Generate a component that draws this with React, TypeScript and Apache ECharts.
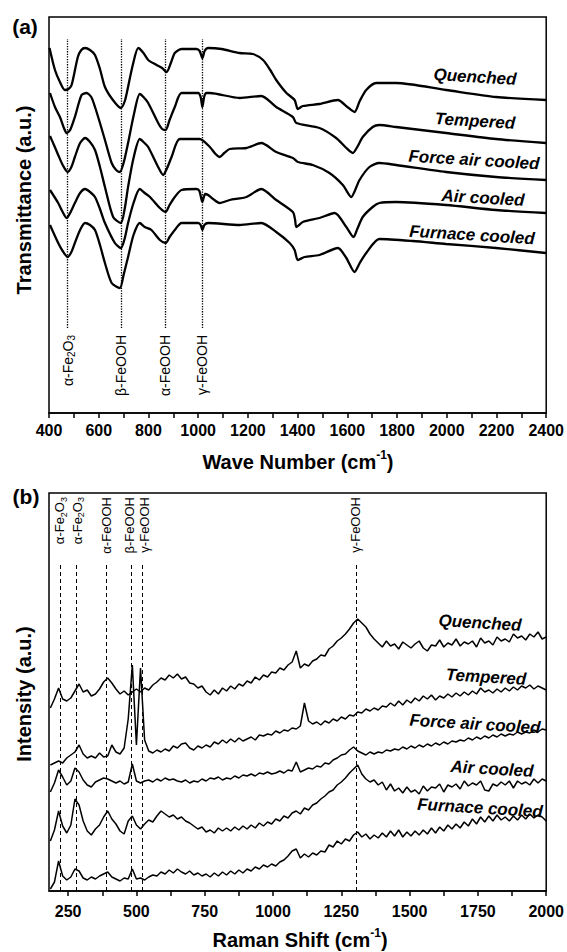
import React, { useEffect, useRef } from 'react';
import * as echarts from 'echarts';

const FONT = '"Liberation Sans", Arial, Helvetica, sans-serif';

// ---------- Panel (a): FTIR, [wave number, transmittance (a.u.)] ----------
const ftirNames = ['Quenched', 'Tempered', 'Force air cooled', 'Air cooled', 'Furnace cooled'];

const ftirQuenched = [
  [402, 365], [424, 343], [444, 331], [464, 323], [478, 324], [491, 328], [516, 356], [530, 363], [545, 365],
  [565, 363], [585, 358], [605, 344], [625, 326], [657, 313], [689, 305], [705, 312], [718, 326], [737, 348],
  [759, 365], [780, 360], [799, 353], [833, 348], [855, 345], [873, 341], [890, 350], [906, 360], [933, 364],
  [993, 364], [1006, 362], [1017, 355], [1026, 362], [1040, 365], [1094, 364], [1167, 360], [1220, 359],
  [1261, 353], [1290, 343], [1314, 333], [1355, 320], [1388, 313], [1401, 304], [1421, 307], [1488, 309],
  [1562, 313], [1600, 306], [1629, 301], [1650, 312], [1676, 323], [1716, 330], [1796, 330], [1997, 323],
  [2198, 316], [2399, 313],
];
const ftirTempered = [
  [404, 320], [424, 306], [444, 296], [460, 285], [471, 280], [485, 283], [504, 296], [531, 318], [551, 320],
  [570, 316], [585, 306], [605, 290], [625, 273], [652, 250], [670, 243], [685, 241], [700, 250], [718, 270],
  [741, 298], [765, 319], [780, 316], [799, 310], [839, 290], [855, 284], [869, 283], [885, 293], [906, 306],
  [933, 320], [1000, 320], [1010, 316], [1017, 306], [1024, 316], [1033, 320], [1047, 320], [1167, 315],
  [1254, 317], [1314, 306], [1381, 296], [1395, 290], [1488, 285], [1555, 275], [1596, 265], [1622, 260],
  [1640, 266], [1662, 276], [1702, 286], [1729, 288], [1796, 286], [1997, 280], [2198, 274], [2399, 270],
];
const ftirForceAir = [
  [404, 277], [420, 268], [437, 258], [455, 248], [475, 241], [490, 246], [504, 256], [525, 270], [545, 275],
  [565, 271], [585, 263], [605, 246], [625, 226], [658, 196], [689, 190], [705, 205], [718, 226], [740, 255],
  [765, 274], [780, 271], [799, 266], [839, 246], [859, 238], [875, 245], [893, 256], [926, 274], [1006, 274],
  [1047, 266], [1070, 259], [1087, 256], [1105, 260], [1127, 264], [1194, 265], [1254, 270], [1314, 261],
  [1381, 255], [1401, 251], [1461, 248], [1528, 240], [1582, 228], [1616, 216], [1630, 222], [1649, 233],
  [1689, 246], [1729, 250], [1796, 248], [1997, 241], [2198, 236], [2399, 233],
];
const ftirAir = [
  [404, 223], [437, 210], [455, 201], [471, 195], [485, 200], [504, 210], [525, 220], [545, 224], [565, 221],
  [585, 216], [605, 204], [625, 190], [665, 170], [689, 165], [705, 175], [718, 190], [740, 210], [765, 224],
  [785, 220], [806, 216], [846, 205], [869, 201], [885, 208], [906, 216], [933, 223], [993, 224], [1005, 222],
  [1017, 211], [1028, 219], [1040, 218], [1060, 214], [1087, 210], [1127, 213], [1194, 216], [1254, 224],
  [1314, 213], [1381, 201], [1390, 193], [1395, 186], [1421, 191], [1488, 195], [1549, 200], [1596, 186],
  [1625, 176], [1640, 184], [1662, 196], [1702, 206], [1729, 210], [1796, 211], [1997, 208], [2198, 203],
  [2399, 200],
];
const ftirFurnace = [
  [404, 188], [437, 170], [455, 162], [475, 156], [490, 161], [504, 170], [525, 183], [545, 190], [565, 188],
  [585, 183], [605, 168], [625, 150], [652, 130], [685, 125], [700, 138], [718, 156], [740, 178], [765, 190],
  [785, 186], [812, 183], [846, 173], [869, 170], [885, 176], [906, 183], [933, 190], [1000, 190], [1010, 188],
  [1017, 183], [1025, 188], [1040, 190], [1167, 188], [1254, 190], [1314, 181], [1368, 170], [1388, 163],
  [1401, 153], [1428, 156], [1488, 158], [1562, 165], [1596, 155], [1629, 141], [1650, 150], [1676, 160],
  [1729, 174], [1863, 172], [1997, 169], [2198, 165], [2399, 160],
];
const ftirRefLines = [475, 689, 868, 1017];
const ftirRefLabels = ['α-Fe{s|2}O{s|3}', 'β-FeOOH', 'α-FeOOH', 'γ-FeOOH'];
const ftirRefSpan = [85, 374];

// ---------- Panel (b): Raman, shift grid + intensities (a.u.) ----------
const ramanShift = [
  185, 200, 215, 230, 245, 260, 275, 290, 305, 320, 335, 350, 365, 380, 395, 410, 425, 440, 455, 470,
  485, 500, 515, 530, 545, 560, 575, 590, 605, 620, 635, 650, 665, 680, 695, 710, 725, 740, 755, 770,
  785, 800, 815, 830, 845, 860, 875, 890, 905, 920, 935, 950, 965, 980, 995, 1010, 1025, 1040, 1055, 1070,
  1085, 1100, 1115, 1130, 1145, 1160, 1175, 1190, 1205, 1220, 1235, 1250, 1265, 1280, 1295, 1310, 1325, 1340, 1355, 1370,
  1385, 1400, 1415, 1430, 1445, 1460, 1475, 1490, 1505, 1520, 1535, 1550, 1565, 1580, 1595, 1610, 1625, 1640, 1655, 1670,
  1685, 1700, 1715, 1730, 1745, 1760, 1775, 1790, 1805, 1820, 1835, 1850, 1865, 1880, 1895, 1910, 1925, 1940, 1955, 1970,
  1985, 2000,
];
const ramanQuenched = [
  183, 192, 203, 192, 190, 193, 200, 207, 199, 201,
  195, 197, 202, 209, 213, 208, 202, 197, 200, 196,
  199, 202, 199, 203, 201, 206, 209, 213, 211, 216,
  213, 217, 212, 214, 208, 207, 203, 205, 199, 196,
  201, 197, 203, 200, 205, 202, 207, 205, 210, 208,
  214, 211, 216, 214, 219, 218, 223, 221, 226, 229,
  240, 223, 227, 225, 230, 232, 236, 235, 242, 245,
  250, 253, 257, 262, 268, 272, 268, 264, 257, 252,
  248, 244, 250, 245, 247, 242, 249, 246, 243, 247,
  250, 243, 240, 246, 245, 251, 244, 248, 246, 252,
  245, 249, 247, 250, 244, 253, 248, 250, 246, 254,
  250, 252, 249, 257, 253, 255, 251, 257, 254, 259,
  252, 254,
];
const ramanTempered = [
  126, 128, 130, 128, 133, 136, 139, 146, 137, 133,
  135, 133, 138, 134, 135, 146, 139, 137, 143, 172,
  226, 146, 223, 151, 140, 138, 141, 139, 142, 140,
  145, 143, 147, 148, 143, 141, 145, 143, 146, 144,
  149, 147, 151, 148, 152, 149, 153, 150, 152, 154,
  151, 156, 155, 157, 156, 160, 158, 161, 160, 163,
  162, 165, 188, 170, 167, 169, 166, 170, 168, 172,
  170, 174, 172, 176, 175, 179, 178, 182, 180, 183,
  181, 185, 184, 188, 185, 190, 186, 191, 188, 193,
  190, 195, 192, 196, 191, 195, 193, 197, 194, 198,
  195, 199, 196, 200, 197, 203, 199, 201, 198, 202,
  199, 203, 200, 204, 201, 205, 203, 206, 202, 205,
  203, 201,
];
const ramanForceAir = [
  99, 108, 121, 114, 106, 110, 123, 119, 111, 106,
  104, 109, 111, 113, 112, 110, 108, 110, 107, 109,
  127, 110, 108, 110, 111, 109, 112, 110, 113, 111,
  112, 110, 109, 111, 108, 110, 109, 112, 110, 113,
  112, 114, 111, 113, 112, 115, 113, 116, 115, 117,
  115, 118, 117, 119, 117, 118, 120, 118, 121, 120,
  129, 119, 121, 123, 122, 125, 124, 128, 127, 131,
  133, 136, 137, 141, 144, 140, 138, 136, 139, 137,
  139, 138, 141, 140, 142, 141, 144, 142, 145, 143,
  146, 144, 147, 145, 148, 146, 149, 147, 150, 149,
  151, 150, 153, 151, 154, 152, 155, 153, 156, 154,
  157, 155, 157, 156, 159, 157, 159, 158, 161, 159,
  162, 161,
];
const ramanAir = [
  50, 61, 80, 65, 58, 66, 92, 86, 70, 60,
  56, 62, 66, 74, 80, 72, 67, 60, 57, 70,
  75, 66, 62, 67, 71, 69, 75, 80, 77, 74,
  76, 72, 74, 70, 68, 65, 62, 64, 59, 61,
  58, 63, 60, 63, 60, 64, 61, 65, 62, 66,
  63, 68, 65, 69, 67, 72, 70, 75, 73, 78,
  80, 77, 83, 81, 86, 88, 92, 95, 99, 101,
  106, 109, 113, 118, 122, 126, 117, 112, 109, 111,
  106, 109, 101, 107, 100, 103, 98, 104, 99, 101,
  97, 105, 100, 104, 103, 107, 99, 106, 104, 107,
  102, 110, 105, 108, 106, 110, 101, 100, 107, 105,
  109, 106, 110, 103, 110, 107, 109, 106, 112, 108,
  112, 110,
];
const ramanFurnace = [
  2, 9, 30, 15, 11, 14, 22, 20, 13, 11,
  14, 12, 15, 17, 19, 14, 12, 10, 13, 12,
  22, 12, 13, 11, 14, 16, 15, 19, 17, 21,
  18, 22, 19, 17, 20, 16, 18, 15, 17, 14,
  18, 15, 19, 16, 20, 17, 21, 18, 22, 20,
  24, 22, 26, 24, 27, 25, 29, 31, 35, 40,
  42, 33, 37, 34, 38, 36, 40, 39, 46, 44,
  50, 47, 52, 50, 56, 59, 54, 57, 52, 56,
  53, 58, 54, 60, 55, 61, 54, 59, 55, 60,
  56, 61, 57, 63, 58, 64, 60, 66, 62, 67,
  63, 69, 65, 72, 67, 74, 69, 75, 70, 76,
  71, 74, 70, 75, 71, 76, 72, 77, 73, 76,
  74, 70,
];
const ramanRefLines = [220, 280, 390, 480, 520, 1303];
const ramanRefLabels = ['α-Fe{s|2}O{s|3}', 'α-Fe{s|2}O{s|3}', 'α-FeOOH', 'β-FeOOH', 'γ-FeOOH', 'γ-FeOOH'];
const ramanRefSpan = [0, 326];
const ramanTickValues = [250, 375, 500, 625, 750, 875, 1000, 1125, 1250, 1375, 1500, 1625, 1750, 1875, 2000];
const ramanLabelValues = [250, 500, 750, 1000, 1250, 1500, 1750, 2000];

// ---------- layout (pixels) ----------
const ftirNamePos = [[475, 77], [475, 121], [474, 160], [483, 198], [472, 235]];
const ramanNamePos = [[480, 623], [486, 677], [475, 724], [492, 769], [480, 808]];
const ramanRefLabelShift = [0, 1, 0, -1, 3, 0];

export default function App() {
  const ref = useRef<HTMLDivElement>(null);

  useEffect(() => {
    document.body.style.margin = '0';
    const chart = echarts.init(ref.current!, null, { renderer: 'svg' });
    const black = '#000';
    const tickLabel = { color: black, fontSize: 16, fontWeight: 'bold', fontFamily: FONT };

    const ftirCurves = [ftirQuenched, ftirTempered, ftirForceAir, ftirAir, ftirFurnace];
    const ramanCurves = [ramanQuenched, ramanTempered, ramanForceAir, ramanAir, ramanFurnace];

    const series: any[] = [];
    ftirCurves.forEach((d, i) => {
      series.push({
        type: 'line', name: 'FTIR ' + ftirNames[i], xAxisIndex: 0, yAxisIndex: 0,
        data: d, showSymbol: false, symbol: 'none', smooth: 0.25, silent: true, z: 3,
        lineStyle: { color: black, width: 2.3 },
        markLine: i === 0 ? {
          silent: true, symbol: ['none', 'none'], label: { show: false }, z: 2,
          lineStyle: { color: black, width: 1.3, type: 'dotted' },
          data: ftirRefLines.map((w) => [{ coord: [w, ftirRefSpan[0]] }, { coord: [w, ftirRefSpan[1]] }]),
        } : undefined,
      });
    });
    ramanCurves.forEach((vals, i) => {
      series.push({
        type: 'line', name: 'Raman ' + ftirNames[i], xAxisIndex: 1, yAxisIndex: 1,
        data: ramanShift.map((s, j) => [s, vals[j]]), showSymbol: false, symbol: 'none', silent: true, z: 3,
        lineStyle: { color: black, width: 1.5 },
        markLine: i === 0 ? {
          silent: true, symbol: ['none', 'none'], label: { show: false }, z: 2,
          lineStyle: { color: black, width: 1, type: [4, 3] },
          data: ramanRefLines.map((w) => [{ coord: [w, ramanRefSpan[0]] }, { coord: [w, ramanRefSpan[1]] }]),
        } : undefined,
      });
    });

    chart.setOption({
      animation: false,
      grid: [
        { left: 49, top: 17, width: 498, height: 396, show: true, borderColor: black, borderWidth: 1.5, backgroundColor: 'transparent' },
        { left: 49, top: 493, width: 502, height: 398, show: true, borderColor: black, borderWidth: 1.5, backgroundColor: 'transparent' },
      ],
      xAxis: [
        {
          type: 'value', gridIndex: 0, min: 400, max: 2400, interval: 100,
          axisLine: { onZero: false, lineStyle: { color: black, width: 1.5 } },
          axisTick: { inside: false, length: 5, lineStyle: { color: black, width: 1.5 } },
          axisLabel: { ...tickLabel, margin: 9, showMinLabel: true, showMaxLabel: true,
            formatter: (v: number) => (v % 200 === 0 ? String(v) : '') },
          splitLine: { show: false },
        },
        {
          type: 'value', gridIndex: 1, min: 180, max: 2000,
          axisLine: { onZero: false, lineStyle: { color: black, width: 1.5 } },
          axisTick: { inside: false, length: 5, customValues: ramanTickValues, lineStyle: { color: black, width: 1.5 } },
          axisLabel: { ...tickLabel, margin: 12, customValues: ramanLabelValues, formatter: (v: number) => String(v) },
          splitLine: { show: false },
        },
      ],
      yAxis: [
        { type: 'value', gridIndex: 0, min: 0, max: 396, axisLine: { show: false }, axisTick: { show: false }, axisLabel: { show: false }, splitLine: { show: false } },
        { type: 'value', gridIndex: 1, min: 0, max: 398, axisLine: { show: false }, axisTick: { show: false }, axisLabel: { show: false }, splitLine: { show: false } },
      ],
      series,
    });

    const px = (axis: number, v: number) => chart.convertToPixel({ xAxisIndex: axis }, v) as number;
    const subRich = (fs: number) => ({ s: { fontSize: fs - 4, fontFamily: FONT, color: black, verticalAlign: 'bottom', lineHeight: fs + 4 } });
    const refText = (x: number, y: number, text: string, fs: number) => ({
      type: 'text', x, y, rotation: Math.PI / 2, silent: true,
      style: { text, fill: black, fontSize: fs, fontFamily: FONT, align: 'right', verticalAlign: 'middle', lineHeight: fs + 4, rich: subRich(fs) },
    });
    const supRich = { u: { fontSize: 12, fontWeight: 'bold', fontFamily: FONT, color: black, verticalAlign: 'top', lineHeight: 26 } };
    const axisTitle = (x: number, y: number, text: string, rot = 0) => ({
      type: 'text', x, y, rotation: rot, silent: true,
      style: { text, fill: black, fontSize: 20, fontWeight: 'bold', fontFamily: FONT, align: 'center', verticalAlign: 'middle', lineHeight: 26, rich: supRich },
    });
    const nameText = (p: number[], text: string) => ({
      type: 'text', x: p[0], y: p[1], rotation: -0.06, silent: true,
      style: { text, fill: black, fontSize: 17, fontWeight: 'bold', fontStyle: 'italic', fontFamily: FONT, align: 'center', verticalAlign: 'middle' },
    });

    const graphic: any[] = [
      { type: 'text', x: 25, y: 26, silent: true, style: { text: '(a)', fill: black, fontSize: 21, fontWeight: 'bold', fontFamily: FONT, align: 'center', verticalAlign: 'middle' } },
      { type: 'text', x: 26, y: 496, silent: true, style: { text: '(b)', fill: black, fontSize: 21, fontWeight: 'bold', fontFamily: FONT, align: 'center', verticalAlign: 'middle' } },
      axisTitle(298, 462, 'Wave Number (cm{u|-1})'),
      axisTitle(300, 940, 'Raman Shift (cm{u|-1})'),
      axisTitle(23.5, 200, 'Transmittance (a.u.)', Math.PI / 2),
      axisTitle(23.5, 694, 'Intensity (a.u.)', Math.PI / 2),
    ];
    ftirRefLines.forEach((w, i) => graphic.push(refText(px(0, w), 335, ftirRefLabels[i], 14)));
    ramanRefLines.forEach((w, i) => graphic.push(refText(px(1, w) + ramanRefLabelShift[i], 497, ramanRefLabels[i], 13)));
    ftirNames.forEach((n, i) => graphic.push(nameText(ftirNamePos[i], n)));
    ftirNames.forEach((n, i) => graphic.push(nameText(ramanNamePos[i], n)));

    chart.setOption({ graphic });

    return () => chart.dispose();
  }, []);

  return <div ref={ref} style={{ position: 'absolute', left: 0, top: 0, width: 567, height: 952 }} />;
}
